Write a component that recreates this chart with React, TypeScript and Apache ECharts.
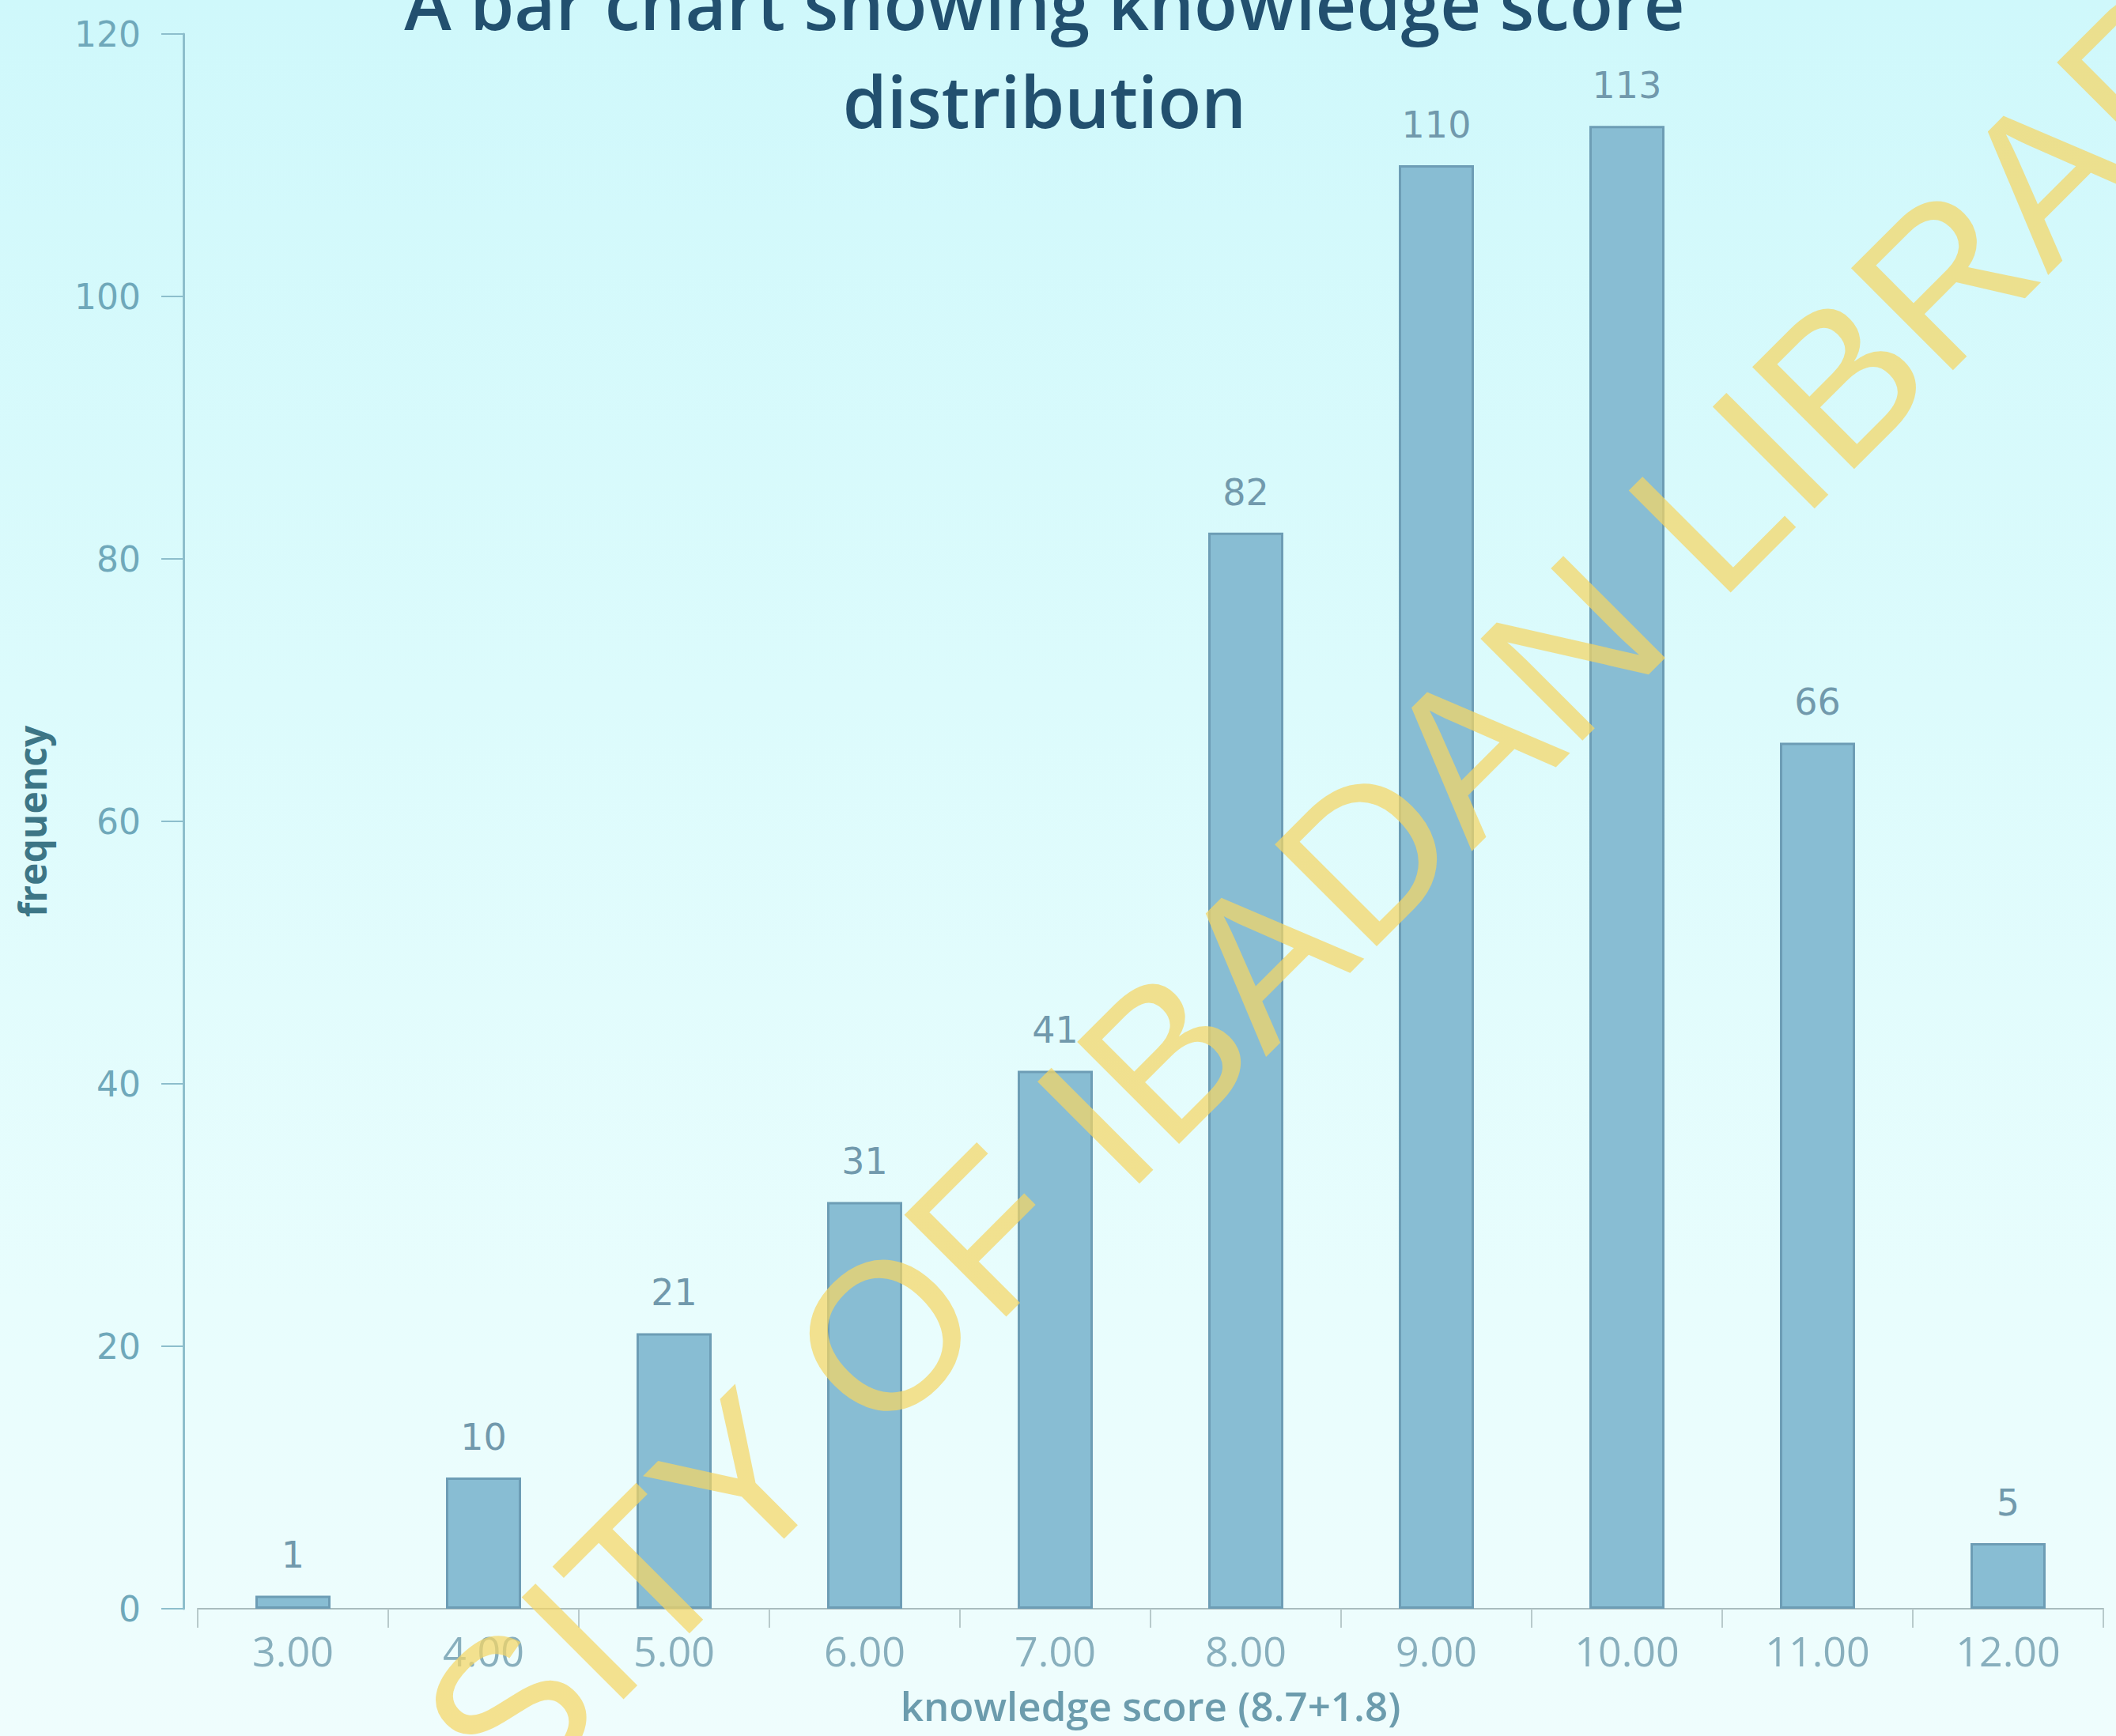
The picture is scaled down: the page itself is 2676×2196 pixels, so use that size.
import React, { useEffect, useRef } from "react";
import * as echarts from "echarts";

const scoreCategories = ["3.00", "4.00", "5.00", "6.00", "7.00", "8.00", "9.00", "10.00", "11.00", "12.00"];
const frequencies = [1, 10, 21, 31, 41, 82, 110, 113, 66, 5];
const yTicks = { min: 0, max: 120, interval: 20 };

const chartTitle = "A bar chart showing knowledge score\ndistribution";
const xAxisTitle = "knowledge score (8.7+1.8)";
const yAxisTitle = "frequency";
const watermarkText = "UNIVERSITY OF IBADAN LIBRARY";

export default function App() {
  const ref = useRef<HTMLDivElement>(null);

  useEffect(() => {
    if (!ref.current) return;
    const chart = echarts.init(ref.current, null, { renderer: "svg" });
    chart.setOption({
      animation: false,
      backgroundColor: "transparent",
      title: {
        text: chartTitle,
        left: 1316,
        top: -64,
        textAlign: "center",
        textStyle: {
          fontFamily: "Open Sans",
          fontWeight: 600,
          fontSize: 90,
          lineHeight: 124,
          color: "#22506f",
        },
      },
      grid: { left: 250, top: 43, width: 2410, height: 1992 },
      xAxis: {
        type: "category",
        data: scoreCategories,
        name: xAxisTitle,
        nameLocation: "middle",
        nameGap: 96,
        nameTextStyle: {
          fontFamily: "Open Sans",
          fontWeight: 600,
          fontSize: 51,
          color: "#6c9cad",
        },
        axisLine: { lineStyle: { color: "#a9bcbe", width: 2 } },
        axisTick: { show: true, length: 24, lineStyle: { color: "#b8cacb", width: 2 } },
        axisLabel: {
          margin: 26,
          fontFamily: "Open Sans",
          fontSize: 52,
          color: "#88afbd",
        },
      },
      yAxis: {
        type: "value",
        min: yTicks.min,
        max: yTicks.max,
        interval: yTicks.interval,
        offset: 18,
        name: yAxisTitle,
        nameLocation: "middle",
        nameGap: 168,
        nameRotate: 90,
        nameTextStyle: {
          fontFamily: "Open Sans",
          fontWeight: 700,
          fontSize: 48,
          color: "#3d7686",
        },
        splitLine: { show: false },
        axisLine: { show: true, lineStyle: { color: "#8dbecc", width: 3 } },
        axisTick: { show: true, length: 28, lineStyle: { color: "#8dbecc", width: 2 } },
        axisLabel: {
          margin: 54,
          fontFamily: "DejaVu Sans",
          fontSize: 44,
          color: "#6fa8ba",
        },
      },
      series: [
        {
          type: "bar",
          data: frequencies,
          barWidth: 95,
          itemStyle: {
            color: "#88bdd3",
            borderColor: "#6d9db5",
            borderWidth: 3,
          },
          label: {
            show: true,
            position: "top",
            distance: 28,
            fontFamily: "DejaVu Sans",
            fontSize: 46,
            color: "#7199ac",
          },
        },
      ],
      graphic: [
        {
          type: "text",
          x: 1390,
          y: 1418,
          rotation: Math.PI / 4,
          z: 100,
          silent: true,
          style: {
            text: watermarkText,
            fontFamily: "Liberation Sans",
            fontSize: 265,
            fill: "rgba(245, 214, 100, 0.72)",
            align: "center",
            verticalAlign: "middle",
          },
        },
      ],
    });
    return () => chart.dispose();
  }, []);

  return (
    <div
      ref={ref}
      style={{
        position: "fixed",
        left: 0,
        top: 0,
        width: 2676,
        height: 2196,
        background: "linear-gradient(to bottom, #cff8fb 0%, #dcfbfc 40%, #e8fdfd 75%, #effdfd 100%)",
      }}
    />
  );
}
